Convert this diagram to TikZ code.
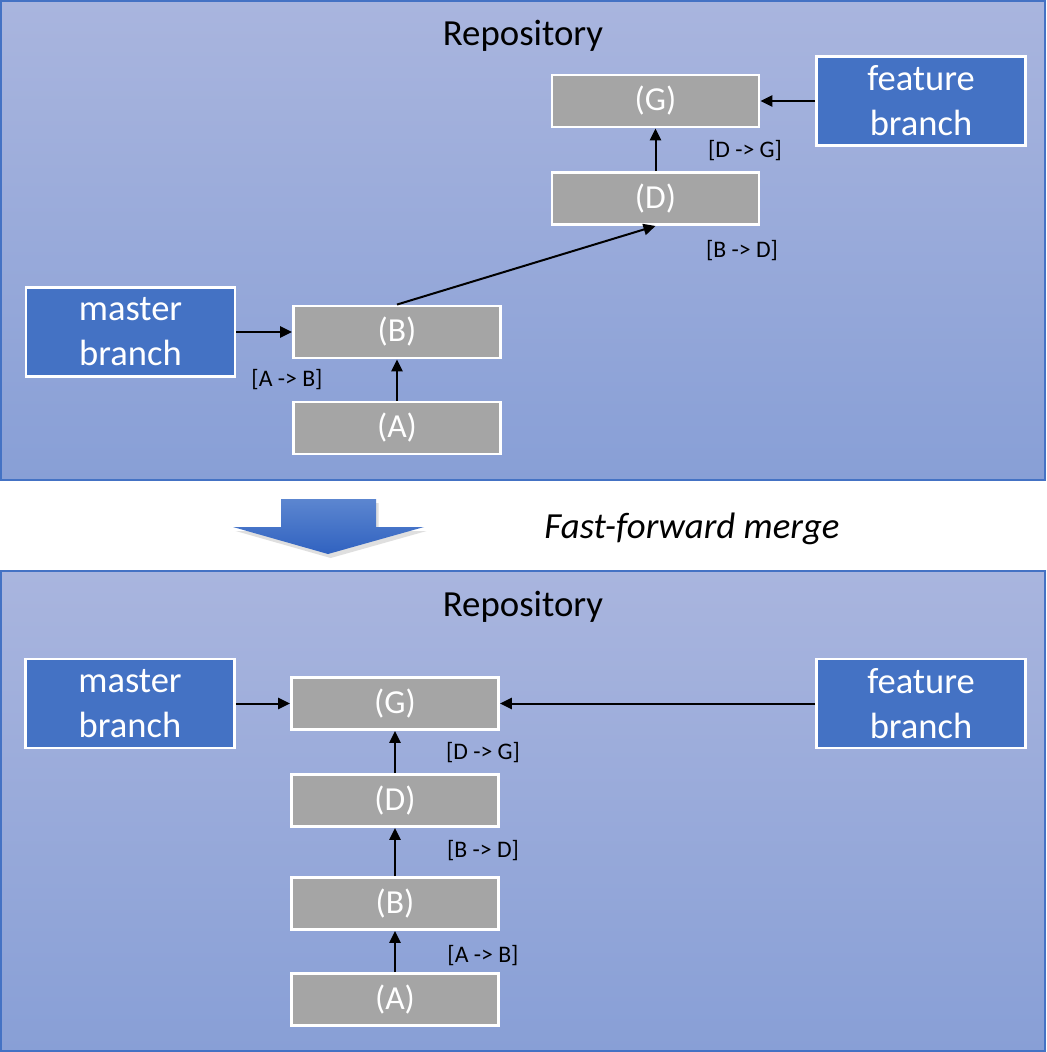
\documentclass[tikz,border=0pt]{standalone}
\usepackage{fontspec}
\setmainfont{Carlito}
\usetikzlibrary{arrows.meta,shadows}
\definecolor{panelline}{RGB}{68,114,196}
\definecolor{paneltop}{RGB}{169,181,222}
\definecolor{panelbottom}{RGB}{136,159,214}
\definecolor{commitgray}{RGB}{165,165,165}
\definecolor{branchblue}{RGB}{68,114,196}
\definecolor{arrowtop}{RGB}{92,134,208}
\definecolor{arrowbottom}{RGB}{48,98,192}

\begin{document}
\begin{tikzpicture}[x=0.75pt,y=-0.75pt,
  panel/.style={draw=panelline, line width=1.1pt, top color=paneltop, bottom color=panelbottom},
  commit/.style={draw=white, line width=2.2pt, fill=commitgray, minimum width=155.25pt, minimum height=39pt, inner sep=0pt, text=white, font=\fontsize{25.2}{30}\selectfont},
  branch/.style={draw=white, line width=2.2pt, fill=branchblue, minimum width=156.75pt, minimum height=66.75pt, inner sep=0pt, text=white, align=center, font=\fontsize{27.4}{33.75}\selectfont},
  link/.style={-{Triangle[length=9pt,width=8.5pt]}, line width=1.5pt},
  hint/.style={anchor=base, font=\fontsize{17.8}{21}\selectfont},
  title/.style={anchor=base, font=\fontsize{27.6}{33}\selectfont}]
\fill[white] (0,0) rectangle (1046,1052);
\useasboundingbox (0,0) rectangle (1046,1052);

\draw[panel] (1,1) rectangle (1045,480);
\node[title] (repo1) at (523,46) {Repository};
\node[branch] (master1) at (130.5,332) {master\\branch};
\node[commit] (B1) at (397,332) {(B)};
\node[commit] (A1) at (397,428) {(A)};
\node[commit] (D1) at (655.5,198.5) {(D)};
\node[commit] (G1) at (655.5,101) {(G)};
\node[branch] (feature1) at (921,101) {feature\\branch};
\draw[link] (master1.east) -- (B1.west);
\draw[link] (A1.north) -- (B1.south);
\draw[link] (B1.north) -- (D1.south);
\draw[link] (D1.north) -- (G1.south);
\draw[link] (feature1.west) -- (G1.east);
\node[hint] (ab1) at (287,386) {[A -> B]};
\node[hint] (bd1) at (742,257) {[B -> D]};
\node[hint] (dg1) at (745,157) {[D -> G]};

\shade[top color=arrowtop, bottom color=arrowbottom, drop shadow={opacity=0.25, shadow xshift=2pt, shadow yshift=-3pt}]
  (281,499) -- (376,499) -- (376,527) -- (424,527) -- (328,554) -- (233,527) -- (281,527) -- cycle;
\node[title, font=\itshape\fontsize{27.6}{33}\selectfont] (merge) at (692,538) {Fast-forward merge};

\draw[panel] (1,571) rectangle (1045,1051);
\node[title] (repo2) at (523,616) {Repository};
\node[branch] (master2) at (130,703.5) {master\\branch};
\node[commit] (G2) at (395,703.5) {(G)};
\node[commit] (D2) at (395,800.5) {(D)};
\node[commit] (B2) at (395,903.5) {(B)};
\node[commit] (A2) at (395,999.5) {(A)};
\node[branch] (feature2) at (921,703.5) {feature\\branch};
\draw[link] (master2.east) -- (G2.west);
\draw[link] (feature2.west) -- (G2.east);
\draw[link] (D2.north) -- (G2.south);
\draw[link] (B2.north) -- (D2.south);
\draw[link] (A2.north) -- (B2.south);
\node[hint] (dg2) at (483,759) {[D -> G]};
\node[hint] (bd2) at (483,857) {[B -> D]};
\node[hint] (ab2) at (483,962) {[A -> B]};
\end{tikzpicture}
\end{document}
